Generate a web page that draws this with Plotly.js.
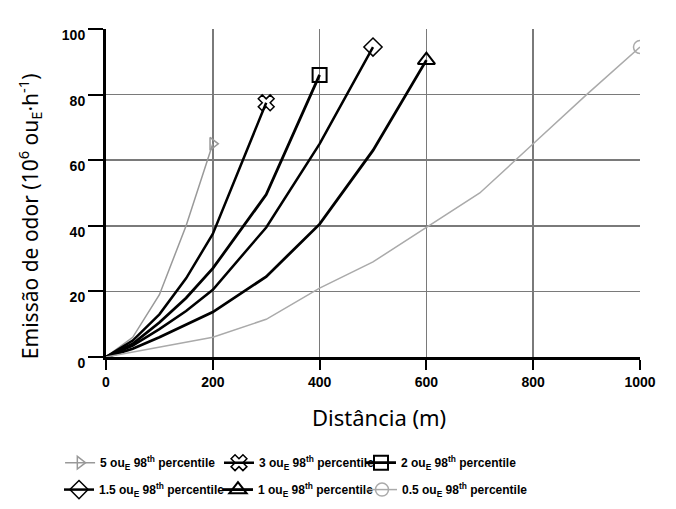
<!DOCTYPE html>
<html><head><meta charset="utf-8">
<script src="https://cdn.plot.ly/plotly-3.0.1.min.js"></script>
<style>html,body{margin:0;padding:0;background:#fff}</style>
</head><body>
<div id="chart" style="width:676px;height:509px"></div>
<script>
// Distance (m) and odour emission (10^6 ouE/h) per criterion
const x5 = [0, 50, 100, 150, 200];
const y5 = [0, 6, 19, 40, 65];
const x3 = [0, 50, 100, 150, 200, 300];
const y3 = [0, 5, 13, 24, 37.5, 77.5];
const x2 = [0, 50, 100, 150, 200, 300, 400];
const y2 = [0, 4, 10.5, 18, 27, 49.5, 86];
const x15 = [0, 50, 100, 150, 200, 300, 400, 500];
const y15 = [0, 3.5, 8.5, 14, 20.5, 39.5, 65, 94.5];
const x1 = [0, 50, 100, 200, 300, 400, 500, 600];
const y1 = [0, 2.5, 6, 13.7, 24.5, 40.5, 63, 90.5];
const x05 = [0, 100, 200, 300, 400, 500, 600, 700, 800, 900, 1000];
const y05 = [0, 3, 6, 11.5, 21, 29, 39.5, 50, 65, 80, 94.5];
const names = [
  '5 ou<sub>E</sub> 98<sup>th</sup> percentile',
  '3 ou<sub>E</sub> 98<sup>th</sup> percentile',
  '2 ou<sub>E</sub> 98<sup>th</sup> percentile',
  '1.5 ou<sub>E</sub> 98<sup>th</sup> percentile',
  '1 ou<sub>E</sub> 98<sup>th</sup> percentile',
  '0.5 ou<sub>E</sub> 98<sup>th</sup> percentile'
];
const xTicks = [0, 200, 400, 600, 800, 1000];
const yTicks = [0, 20, 40, 60, 80, 100];

const styles = [
  {x: x5, y: y5, color: '#999999', w: 1.5, sym: 'triangle-right-open', size: 11, mw: 1.5},
  {x: x3, y: y3, color: '#000000', w: 2.5, sym: 'x-open', size: 14, mw: 1.5},
  {x: x2, y: y2, color: '#000000', w: 2.8, sym: 'square-open', size: 14, mw: 2},
  {x: x15, y: y15, color: '#000000', w: 2.5, sym: 'diamond-open', size: 14, mw: 1.5},
  {x: x1, y: y1, color: '#000000', w: 2.8, sym: 'triangle-up-open', size: 15, mw: 2},
  {x: x05, y: y05, color: '#aaaaaa', w: 1.5, sym: 'circle-open', size: 13, mw: 1.5}
];
const legendIds = ['legend', 'legend2', 'legend3', 'legend4', 'legend5', 'legend6'];

const traces = [];
styles.forEach((s, i) => {
  traces.push({x: s.x, y: s.y, mode: 'lines', showlegend: false,
    line: {color: s.color, width: s.w}, hoverinfo: 'skip'});
});
styles.forEach((s, i) => {
  traces.push({x: s.x.slice(-1), y: s.y.slice(-1), mode: 'lines+markers', name: names[i],
    legend: legendIds[i],
    line: {color: s.color, width: s.w},
    marker: {symbol: s.sym, size: s.size, color: s.color, line: {width: s.mw, color: s.color}}});
});

const legFont = {family: 'Liberation Sans, Arial, sans-serif', size: 12, color: '#000', weight: 'bold'};
const tickFont = {family: 'Liberation Sans, Arial, sans-serif', size: 14, color: '#000', weight: 'bold'};
const legPos = [[-0.086, -0.278], [0.2116, -0.278], [0.4775, -0.278],
                [-0.088, -0.36], [0.2097, -0.36], [0.4794, -0.36]];
const layout = {
  width: 676, height: 509,
  margin: {l: 106, r: 36, t: 29, b: 152, autoexpand: false},
  paper_bgcolor: '#fff', plot_bgcolor: '#fff',
  showlegend: true,
  xaxis: {
    range: [0, 1000], tickvals: xTicks, ticktext: xTicks.map(String),
    showgrid: true, gridcolor: '#7a7a7a', gridwidth: 1.5,
    zeroline: false, showline: true, linecolor: '#000', linewidth: 3,
    ticks: 'outside', ticklen: 10, tickwidth: 2, tickcolor: '#000',
    tickfont: tickFont
  },
  yaxis: {
    range: [0, 100], tickvals: yTicks, ticktext: yTicks.map(String),
    showgrid: true, gridcolor: '#7a7a7a', gridwidth: 1.5,
    zeroline: false, showline: true, linecolor: '#000', linewidth: 3,
    ticks: 'outside', ticklen: 15, tickwidth: 2, tickcolor: '#000',
    ticklabelshift: 6,
    tickfont: tickFont
  },
  annotations: [
    {text: 'Distância (m)', xref: 'paper', yref: 'paper', x: 0.511, y: -0.183,
     xanchor: 'center', yanchor: 'middle', showarrow: false,
     font: {family: 'Noto Sans, sans-serif', size: 22, color: '#000'}},
    {text: 'Emissão de odor (10<sup>6</sup> ou<sub>E</sub>·h<sup>-1</sup>)', xref: 'paper', yref: 'paper',
     x: -0.142, y: 0.43, xanchor: 'center', yanchor: 'middle', textangle: -90, showarrow: false,
     font: {family: 'Noto Sans, sans-serif', size: 21, color: '#000'}}
  ]
};
legendIds.forEach((id, i) => {
  layout[id] = {orientation: 'h', x: legPos[i][0], xanchor: 'left', y: legPos[i][1], yanchor: 'top',
    itemwidth: 30, font: legFont, bgcolor: 'rgba(0,0,0,0)'};
});
Plotly.newPlot('chart', traces, layout, {displayModeBar: false, staticPlot: true});
</script>
</body></html>
